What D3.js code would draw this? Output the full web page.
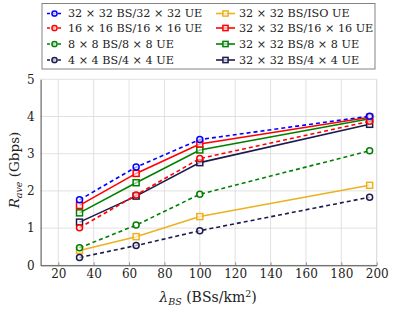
<!DOCTYPE html>
<html><head><meta charset="utf-8">
<script src="https://cdn.jsdelivr.net/npm/d3@7"></script>
<style>body{margin:0;background:#fff}svg{display:block}</style>
</head><body><svg id="c" width="395" height="312"></svg>
<script>
const xVals = [32, 64, 100, 196];
const seriesNames = ["32 × 32 BS/32 × 32 UE","16 × 16 BS/16 × 16 UE","8 × 8 BS/8 × 8 UE","4 × 4 BS/4 × 4 UE",
  "32 × 32 BS/ISO UE","32 × 32 BS/16 × 16 UE","32 × 32 BS/8 × 8 UE","32 × 32 BS/4 × 4 UE"];
const s32_32 = [1.76, 2.64, 3.38, 4.01];
const s16_16 = [1.01, 1.89, 2.87, 3.87];
const s8_8   = [0.47, 1.08, 1.91, 3.08];
const s4_4   = [0.21, 0.53, 0.93, 1.83];
const s32_iso= [0.40, 0.77, 1.31, 2.15];
const s32_16 = [1.61, 2.47, 3.26, 3.98];
const s32_8  = [1.41, 2.22, 3.10, 3.94];
const s32_4  = [1.16, 1.86, 2.76, 3.79];
const colors = ["#0000ff","#ff0000","#008000","#1b1b4d","#edb120","#ff0000","#008000","#1b1b4d"];
const xTicks = [20,40,60,80,100,120,140,160,180,200];
const yTicks = [0,1,2,3,4,5];

const data = [s32_32,s16_16,s8_8,s4_4,s32_iso,s32_16,s32_8,s32_4];
const dashed = [true,true,true,true,false,false,false,false];
const FONT = "DejaVu Serif";

const svg = d3.select("#c");
const L=40.6,R=376.7,T=79.3,B=265.3;
const x = d3.scaleLinear().domain([10,200]).range([L,R]);
const y = d3.scaleLinear().domain([0,5]).range([B,T]);

// grid
svg.append("g").selectAll("line").data(xTicks).join("line")
  .attr("x1",d=>x(d)).attr("x2",d=>x(d)).attr("y1",T).attr("y2",B).attr("stroke","#d9d9d9").attr("stroke-width",0.8);
svg.append("g").selectAll("line").data(yTicks).join("line")
  .attr("x1",L).attr("x2",R).attr("y1",d=>y(d)).attr("y2",d=>y(d)).attr("stroke","#d9d9d9").attr("stroke-width",0.8);
svg.append("line").attr("x1",R).attr("x2",R).attr("y1",T).attr("y2",B).attr("stroke","#d9d9d9").attr("stroke-width",0.8);

// axes
const xa = svg.append("g").attr("transform",`translate(0,${B})`).call(d3.axisBottom(x).tickValues(xTicks).tickFormat(d3.format("d")).tickSize(3).tickSizeOuter(0));
const ya = svg.append("g").attr("transform",`translate(${L},0)`).call(d3.axisLeft(y).tickValues(yTicks).tickFormat(d3.format("d")).tickSize(0).tickSizeOuter(0));
[xa,ya].forEach(a=>{a.attr("font-family",FONT).attr("font-size",12);
  a.select(".domain").attr("stroke","#333").attr("stroke-width",0.9);
  a.selectAll(".tick line").attr("stroke","#555").attr("stroke-width",0.6);
  a.selectAll("text").attr("fill","#222");});
xa.selectAll(".tick line").attr("y2",-3);
xa.selectAll("text").attr("dy","0.9em").attr("y",2);
ya.selectAll("text").attr("x",-6);

// lines
const line = d3.line().x((d,i)=>x(xVals[i])).y(d=>y(d));
const order = [7,6,5,4,3,2,1,0];
order.forEach(k=>{
  const g = svg.append("g");
  g.append("path").datum(data[k]).attr("d",line).attr("fill","none").attr("stroke",colors[k])
    .attr("stroke-width",1.6).attr("stroke-dasharray",dashed[k]?"4,3":null);
  if(dashed[k]){
    g.selectAll("circle").data(data[k]).join("circle").attr("cx",(d,i)=>x(xVals[i])).attr("cy",d=>y(d))
      .attr("r",3).attr("fill","#fff").attr("fill-opacity",0.6).attr("stroke",colors[k]).attr("stroke-width",1.5);
  } else {
    g.selectAll("rect").data(data[k]).join("rect").attr("x",(d,i)=>x(xVals[i])-3).attr("y",d=>y(d)-3)
      .attr("width",6).attr("height",6).attr("fill","#fff").attr("fill-opacity",0.6).attr("stroke",colors[k]).attr("stroke-width",1.5);
  }
});

// axis labels
const yl = svg.append("text").attr("transform","translate(19,170) rotate(-90)").attr("text-anchor","middle").attr("font-size",13.5);
yl.append("tspan").attr("font-style","italic").text("R");
yl.append("tspan").attr("font-style","italic").attr("font-size",9.5).attr("dy",3).text("ave");
yl.append("tspan").attr("dy",-3).text(" (Gbps)");
const xl = svg.append("text").attr("x",208).attr("y",302).attr("text-anchor","middle").attr("font-size",14);
xl.append("tspan").attr("font-style","italic").text("λ");
xl.append("tspan").attr("font-style","italic").attr("font-size",9.5).attr("dy",3).text("BS");
xl.append("tspan").attr("dy",-3).text(" (BSs/km");
xl.append("tspan").attr("font-size",9.5).attr("dy",-5).text("2");
xl.append("tspan").attr("dy",5).text(")");

// legend
svg.append("rect").attr("x",42).attr("y",3.5).attr("width",333).attr("height",65.5).attr("fill","#fff").attr("stroke","#777").attr("stroke-width",0.9);
const rows=[13.5,28,44,60];
seriesNames.forEach((n,k)=>{
  const col = k<4?0:1, r=k%4;
  const x0 = col? 216:47, x1 = col? 235:62, tx = col? 239:68;
  const cy = rows[r];
  const g = svg.append("g");
  g.append("line").attr("x1",x0).attr("x2",x1).attr("y1",cy).attr("y2",cy).attr("stroke",colors[k]).attr("stroke-width",1.6)
    .attr("stroke-dasharray",dashed[k]?"3,2.5":null);
  const mx=(x0+x1)/2;
  if(dashed[k]) g.append("circle").attr("cx",mx).attr("cy",cy).attr("r",2.6).attr("fill","#fff").attr("fill-opacity",0.6).attr("stroke",colors[k]).attr("stroke-width",1.5);
  else g.append("rect").attr("x",mx-2.6).attr("y",cy-2.6).attr("width",5.2).attr("height",5.2).attr("fill","#fff").attr("fill-opacity",0.6).attr("stroke",colors[k]).attr("stroke-width",1.5);
  g.append("text").attr("x",tx).attr("y",cy).attr("dy","0.35em").attr("font-size",11.2).text(n);
});
svg.selectAll("text").style("font-family",FONT).style("fill","#222");
</script></body></html>
